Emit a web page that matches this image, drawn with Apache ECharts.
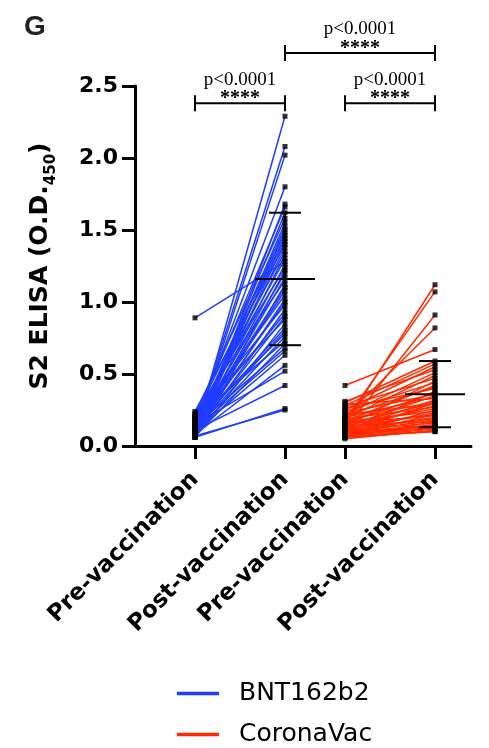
<!DOCTYPE html>
<html>
<head>
<meta charset="utf-8">
<script src="https://cdn.jsdelivr.net/npm/echarts@6/dist/echarts.min.js"></script>
<style>
html,body{margin:0;padding:0;background:#fff;}
#c{width:489px;height:748px;}
</style>
</head>
<body>
<div id="c"></div>
<script>
// ---- data ----
const xPositions = [2, 5, 7, 10];
const xLabels = ['Pre-vaccination', 'Post-vaccination', 'Pre-vaccination', 'Post-vaccination'];
const yTicks = [0, 0.5, 1.0, 1.5, 2.0, 2.5];

const bntPre = [0.08, 0.12, 0.10, 0.15, 0.06, 0.18, 0.09, 0.22, 0.11, 0.14,
  0.07, 0.20, 0.13, 0.16, 0.09, 0.24, 0.12, 0.19, 0.08, 0.17,
  0.89, 0.10, 0.21, 0.06, 0.14, 0.11, 0.23, 0.07, 0.15, 0.13,
  0.18, 0.09, 0.12, 0.20, 0.08, 0.16, 0.10, 0.22, 0.06, 0.13,
  0.11, 0.17, 0.09, 0.19, 0.07, 0.14, 0.12, 0.10, 0.08, 0.15,
  0.11, 0.06, 0.07];
const bntPost = [2.29, 2.08, 2.02, 1.80, 1.68, 1.66, 1.62, 1.58, 1.55, 1.52,
  1.50, 1.48, 1.46, 1.44, 1.42, 1.40, 1.38, 1.35, 1.33, 1.30,
  1.28, 1.26, 1.24, 1.22, 1.20, 1.17, 1.15, 1.12, 1.10, 1.08,
  1.05, 1.02, 1.00, 0.98, 0.95, 0.92, 0.90, 0.88, 0.85, 0.82,
  0.80, 0.78, 0.76, 0.73, 0.71, 0.68, 0.66, 0.63, 0.56, 0.52,
  0.42, 0.26, 0.25];

const cvPre = [0.15, 0.18, 0.12, 0.20, 0.42, 0.30, 0.28, 0.25, 0.31, 0.22,
  0.19, 0.27, 0.14, 0.24, 0.17, 0.21, 0.26, 0.10, 0.16, 0.23,
  0.13, 0.20, 0.29, 0.11, 0.18, 0.15, 0.09, 0.22, 0.12, 0.19,
  0.14, 0.08, 0.17, 0.11, 0.13, 0.07, 0.16, 0.10, 0.12, 0.09,
  0.14, 0.06, 0.11, 0.08, 0.10, 0.07, 0.09, 0.06, 0.08, 0.05,
  0.07, 0.06];
const cvPost = [1.12, 1.07, 0.91, 0.82, 0.67, 0.59, 0.57, 0.55, 0.53, 0.51,
  0.49, 0.47, 0.45, 0.44, 0.42, 0.41, 0.40, 0.38, 0.37, 0.36,
  0.35, 0.34, 0.33, 0.32, 0.31, 0.30, 0.30, 0.29, 0.28, 0.27,
  0.26, 0.25, 0.24, 0.23, 0.22, 0.22, 0.21, 0.20, 0.19, 0.18,
  0.17, 0.17, 0.16, 0.15, 0.14, 0.14, 0.13, 0.12, 0.12, 0.11,
  0.10, 0.10];

// mean ± SD bars (post-vaccination groups)
const statX = [5, 10];
const statMean = [1.16, 0.36];
const statSD = [0.46, 0.23];

// significance brackets
const bracketFrom = [2, 7, 5];
const bracketTo = [5, 10, 10];
const bracketY = [2.38, 2.38, 2.73];
const bracketP = ['p<0.0001', 'p<0.0001', 'p<0.0001'];
const bracketStars = ['****', '****', '****'];

const seriesNames = ['BNT162b2', 'CoronaVac'];
const BLUE = '#1f3dff';
const RED = '#ff2a00';

// ---- build ----
function pairLines(pre, post, x0, x1) {
  return pre.map((v, i) => ({ coords: [[x0, v], [x1, post[i]]] }));
}
function points(pre, post, x0, x1) {
  return pre.map(v => [x0, v]).concat(post.map(v => [x1, v]));
}

const chart = echarts.init(document.getElementById('c'), null, { renderer: 'canvas' });

const option = {
  animation: false,
  backgroundColor: '#fff',
  title: {
    text: 'G', left: 19, top: 8,
    textStyle: { fontFamily: 'Liberation Sans', fontWeight: 'bold', fontSize: 28, color: '#222' }
  },
  grid: { left: 135, top: 86, width: 336, height: 360, containLabel: false },
  legend: {
    orient: 'vertical', left: 177, top: 681, padding: 0,
    itemWidth: 40, itemHeight: 1.5, itemGap: 16,
    icon: 'rect',
    data: seriesNames,
    textStyle: { fontFamily: 'DejaVu Sans', fontSize: 25, color: '#000', padding: [0, 0, 0, 16] }
  },
  xAxis: {
    type: 'value', min: 0, max: 11.2,
    axisLine: { show: true, onZero: false, lineStyle: { color: '#000', width: 3 } },
    axisTick: { show: true, customValues: xPositions, length: 13, lineStyle: { color: '#000', width: 3 } },
    axisLabel: {
      customValues: xPositions, rotate: 45, margin: 30,
      formatter: v => xLabels[xPositions.indexOf(v)] || '',
      fontFamily: 'DejaVu Sans', fontWeight: 'bold', fontSize: 23, color: '#000'
    },
    splitLine: { show: false }
  },
  yAxis: {
    type: 'value', min: 0, max: 2.5, interval: 0.5,
    name: '{a|S2 ELISA (O.D.}{s|450}{a|)}',
    nameLocation: 'middle', nameGap: 80, nameRotate: 90,
    nameTextStyle: {
      rich: {
        a: { fontFamily: 'DejaVu Sans', fontWeight: 'bold', fontSize: 25, color: '#000', lineHeight: 30 },
        s: { fontFamily: 'DejaVu Sans', fontWeight: 'bold', fontSize: 15, color: '#000', lineHeight: 30, verticalAlign: 'bottom', padding: [0, 0, -4, 0] }
      }
    },
    axisLine: { show: true, lineStyle: { color: '#000', width: 3 } },
    axisTick: { show: true, length: 13, lineStyle: { color: '#000', width: 3 } },
    axisLabel: {
      margin: 17, formatter: v => v.toFixed(1),
      fontFamily: 'DejaVu Sans', fontWeight: 'bold', fontSize: 22, color: '#000'
    },
    splitLine: { show: false }
  },
  series: [
    {
      name: seriesNames[0], type: 'lines', coordinateSystem: 'cartesian2d',
      color: BLUE, itemStyle: { color: BLUE },
      lineStyle: { color: BLUE, width: 1.5, opacity: 1 },
      data: pairLines(bntPre, bntPost, xPositions[0], xPositions[1]), z: 2, silent: true
    },
    {
      name: seriesNames[1], type: 'lines', coordinateSystem: 'cartesian2d',
      color: RED, itemStyle: { color: RED },
      lineStyle: { color: RED, width: 1.5, opacity: 1 },
      data: pairLines(cvPre, cvPost, xPositions[2], xPositions[3]), z: 2, silent: true
    },
    {
      name: 'points', type: 'scatter', symbol: 'rect', symbolSize: 5,
      itemStyle: { color: '#000' }, z: 3, silent: true,
      data: points(bntPre, bntPost, xPositions[0], xPositions[1])
        .concat(points(cvPre, cvPost, xPositions[2], xPositions[3]))
    },
    {
      name: 'meanSD', type: 'custom', z: 4, silent: true,
      encode: { x: 0, y: 1 },
      data: statX.map((x, i) => [x, statMean[i], statSD[i]]),
      renderItem: function (params, api) {
        const x = api.value(0), m = api.value(1), s = api.value(2);
        const c = api.coord([x, m]);
        const t = api.coord([x, m + s]);
        const b = api.coord([x, m - s]);
        const st = { stroke: '#000', lineWidth: 2 };
        return {
          type: 'group', children: [
            { type: 'line', shape: { x1: c[0], y1: t[1], x2: c[0], y2: b[1] }, style: st },
            { type: 'line', shape: { x1: c[0] - 30, y1: c[1], x2: c[0] + 30, y2: c[1] }, style: st },
            { type: 'line', shape: { x1: c[0] - 16, y1: t[1], x2: c[0] + 16, y2: t[1] }, style: st },
            { type: 'line', shape: { x1: c[0] - 16, y1: b[1], x2: c[0] + 16, y2: b[1] }, style: st }
          ]
        };
      }
    },
    {
      name: 'brackets', type: 'custom', z: 5, silent: true, clip: false,
      encode: { x: [0, 1], y: 2 },
      data: bracketFrom.map((f, i) => [f, bracketTo[i], bracketY[i], i]),
      renderItem: function (params, api) {
        const i = api.value(3);
        const p1 = api.coord([api.value(0), api.value(2)]);
        const p2 = api.coord([api.value(1), api.value(2)]);
        const st = { stroke: '#000', lineWidth: 2 };
        const cx = (p1[0] + p2[0]) / 2;
        return {
          type: 'group', children: [
            { type: 'line', shape: { x1: p1[0], y1: p1[1], x2: p2[0], y2: p2[1] }, style: st },
            { type: 'line', shape: { x1: p1[0], y1: p1[1] - 8, x2: p1[0], y2: p1[1] + 8 }, style: st },
            { type: 'line', shape: { x1: p2[0], y1: p2[1] - 8, x2: p2[0], y2: p2[1] + 8 }, style: st },
            { type: 'text', style: { text: bracketStars[i], x: cx, y: p1[1] + 6, align: 'center', verticalAlign: 'bottom',
                font: 'bold 20px "Liberation Serif"', fill: '#000' } },
            { type: 'text', style: { text: bracketP[i], x: cx, y: p1[1] - 14, align: 'center', verticalAlign: 'bottom',
                font: '19px "Liberation Serif"', fill: '#000' } }
          ]
        };
      }
    }
  ]
};
chart.setOption(option);
</script>
</body>
</html>
